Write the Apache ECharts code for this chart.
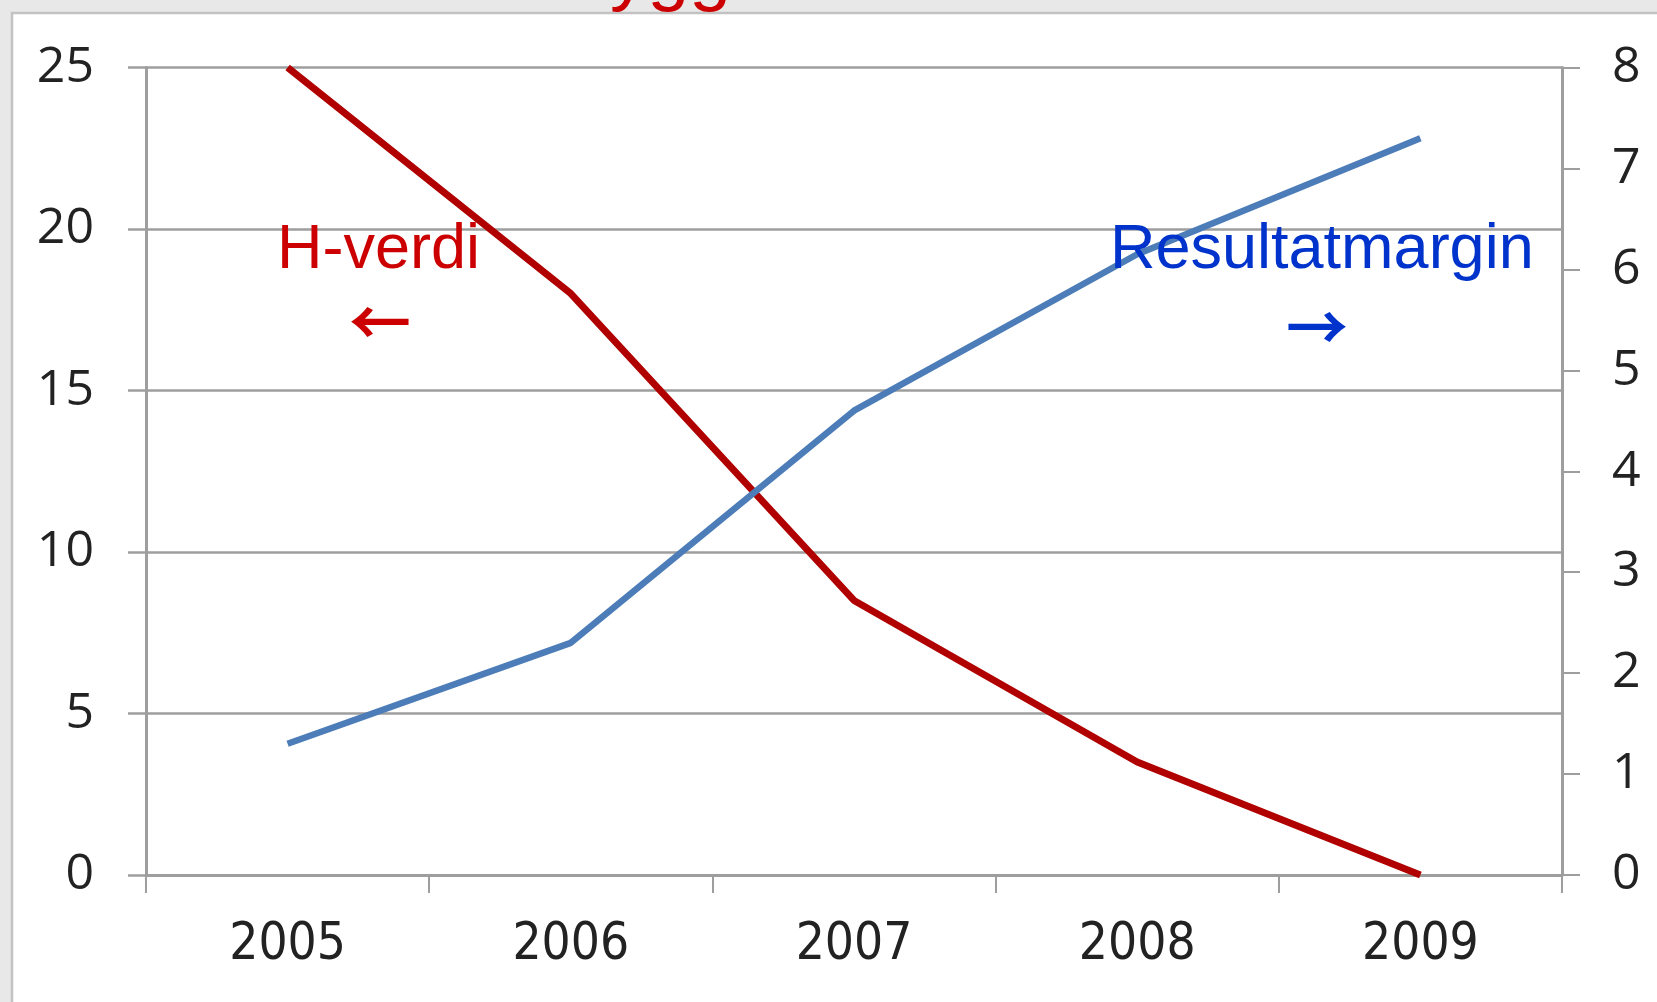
<!DOCTYPE html>
<html>
<head>
<meta charset="utf-8">
<title>H-verdi og resultatmargin 2005–2009</title>
<script src="https://cdn.jsdelivr.net/npm/echarts@6/dist/echarts.min.js"></script>
<style>
  html, body { margin: 0; padding: 0; background: #e8e8e8; }
  #chart { width: 1657px; height: 1002px; }
</style>
</head>
<body>
<div id="chart"></div>
<script>
// Years on the category axis
const years = ['2005', '2006', '2007', '2008', '2009'];
// H-verdi, read against the left axis (0–25)
const hVerdi = [25, 18, 8.5, 3.5, 0];
// Resultatmargin, read against the right axis (0–8)
const resultatmargin = [1.3, 2.3, 4.6, 6.15, 7.3];
// Axis ranges and steps
const leftAxis = { min: 0, max: 25, step: 5 };
const rightAxis = { min: 0, max: 8, step: 1 };

const gridGray = '#9e9e9e';
const labelColor = '#222222';
const narrowFont = '"DejaVu Sans Condensed", "Liberation Sans Narrow", "Liberation Sans", sans-serif';
const numberFont = '"Open Sans", "Liberation Sans", sans-serif';
const arrowFont = 'bold 62px "Noto Sans CJK JP"';

const chart = echarts.init(document.getElementById('chart'), null, { renderer: 'canvas' });

chart.setOption({
  backgroundColor: '#e8e8e8',
  animation: false,
  grid: { left: 146, right: 95, top: 67.5, bottom: 127, containLabel: false },
  xAxis: {
    type: 'category',
    data: years,
    boundaryGap: true,
    axisLine: { show: true, lineStyle: { color: gridGray, width: 3 } },
    axisTick: { show: true, length: 18, alignWithLabel: false, lineStyle: { color: gridGray, width: 2 } },
    axisLabel: {
      color: labelColor,
      fontFamily: narrowFont,
      fontSize: 51,
      margin: 45
    },
    splitLine: { show: false }
  },
  yAxis: [
    {
      type: 'value',
      position: 'left',
      min: leftAxis.min,
      max: leftAxis.max,
      interval: leftAxis.step,
      axisLine: { show: true, lineStyle: { color: gridGray, width: 3 } },
      axisTick: { show: true, length: 18, lineStyle: { color: gridGray, width: 2.5 } },
      axisLabel: {
        color: labelColor,
        fontFamily: numberFont,
        fontSize: 50,
        margin: 52
      },
      splitLine: { show: true, lineStyle: { color: gridGray, width: 2.5 } }
    },
    {
      type: 'value',
      position: 'right',
      min: rightAxis.min,
      max: rightAxis.max,
      interval: rightAxis.step,
      axisLine: { show: true, lineStyle: { color: gridGray, width: 3 } },
      axisTick: { show: true, length: 18, lineStyle: { color: gridGray, width: 2 } },
      axisLabel: {
        color: labelColor,
        fontFamily: numberFont,
        fontSize: 50,
        margin: 50
      },
      splitLine: { show: false }
    }
  ],
  series: [
    {
      name: 'H-verdi',
      type: 'line',
      yAxisIndex: 0,
      data: hVerdi,
      symbol: 'none',
      lineStyle: { color: '#b00000', width: 7, join: 'round' },
      z: 3
    },
    {
      name: 'Resultatmargin',
      type: 'line',
      yAxisIndex: 1,
      data: resultatmargin,
      symbol: 'none',
      lineStyle: { color: '#4d7db8', width: 6.5, join: 'round' },
      z: 4
    }
  ],
  graphic: [
    // white chart panel with its grey frame
    {
      type: 'rect', z: -10,
      shape: { x: 12, y: 13, width: 1660, height: 1000 },
      style: { fill: '#ffffff', stroke: '#c2c2c2', lineWidth: 2.5 }
    },
    // heading, mostly above the visible area
    {
      type: 'text', z: 10,
      style: {
        text: 'Bygg',
        x: 560, y: 14,
        align: 'left', verticalAlign: 'bottom',
        font: '75px "Liberation Sans"',
        fill: '#cc0000'
      }
    },
    {
      type: 'text', z: 10,
      style: {
        text: 'H-verdi',
        x: 277, y: 251,
        align: 'left', verticalAlign: 'middle',
        font: '63px "Liberation Sans"',
        fill: '#cc0000'
      }
    },
    {
      type: 'text', z: 10,
      style: {
        text: '←',
        x: 380, y: 322,
        align: 'center', verticalAlign: 'middle',
        font: arrowFont,
        fill: '#cc0000'
      }
    },
    {
      type: 'text', z: 10,
      style: {
        text: 'Resultatmargin',
        x: 1110, y: 251,
        align: 'left', verticalAlign: 'middle',
        font: '63px "Liberation Sans"',
        fill: '#0033cc'
      }
    },
    {
      type: 'text', z: 10,
      style: {
        text: '→',
        x: 1317, y: 327,
        align: 'center', verticalAlign: 'middle',
        font: arrowFont,
        fill: '#0033cc'
      }
    }
  ]
});
</script>
</body>
</html>
